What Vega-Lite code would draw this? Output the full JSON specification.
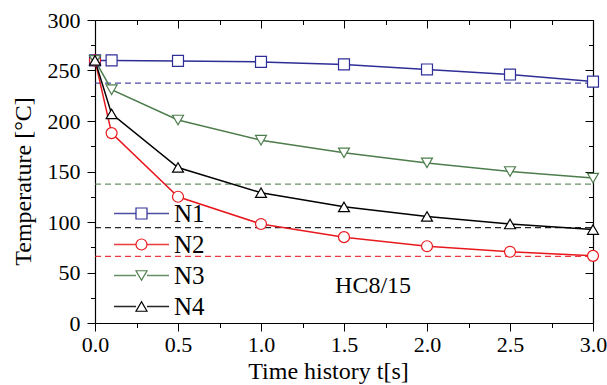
{
  "$schema": "https://vega.github.io/schema/vega-lite/v6.json",
  "width": 498,
  "height": 303,
  "autosize": {"type": "none"},
  "padding": {"left": 95, "top": 20, "right": 14, "bottom": 62},
  "background": "white",
  "config": {
    "view": {"stroke": null},
    "font": "Liberation Serif",
    "axis": {"grid": false, "domainColor": "black", "tickColor": "black", "labelColor": "black", "titleColor": "black", "labelFont": "Liberation Serif", "titleFont": "Liberation Serif", "titleFontWeight": "normal", "labelFlush": false, "labelOverlap": false, "labelBound": false, "offset": 0},
    "legend": {"labelFont": "Liberation Serif"}
  },
  "datasets": {
    "pts": [
      {"series": "N1", "t": 0, "T": 260}, {"series": "N1", "t": 0.1, "T": 260}, {"series": "N1", "t": 0.5, "T": 259.5}, {"series": "N1", "t": 1.0, "T": 258.5}, {"series": "N1", "t": 1.5, "T": 256}, {"series": "N1", "t": 2.0, "T": 251}, {"series": "N1", "t": 2.5, "T": 246}, {"series": "N1", "t": 3.0, "T": 239},
      {"series": "N2", "t": 0, "T": 260}, {"series": "N2", "t": 0.1, "T": 188}, {"series": "N2", "t": 0.5, "T": 125}, {"series": "N2", "t": 1.0, "T": 98}, {"series": "N2", "t": 1.5, "T": 85}, {"series": "N2", "t": 2.0, "T": 76}, {"series": "N2", "t": 2.5, "T": 70.5}, {"series": "N2", "t": 3.0, "T": 66.5},
      {"series": "N3", "t": 0, "T": 260}, {"series": "N3", "t": 0.1, "T": 231}, {"series": "N3", "t": 0.5, "T": 201}, {"series": "N3", "t": 1.0, "T": 181}, {"series": "N3", "t": 1.5, "T": 168.5}, {"series": "N3", "t": 2.0, "T": 158.5}, {"series": "N3", "t": 2.5, "T": 150}, {"series": "N3", "t": 3.0, "T": 143.5},
      {"series": "N4", "t": 0, "T": 260}, {"series": "N4", "t": 0.1, "T": 207}, {"series": "N4", "t": 0.5, "T": 154}, {"series": "N4", "t": 1.0, "T": 129}, {"series": "N4", "t": 1.5, "T": 115}, {"series": "N4", "t": 2.0, "T": 105.5}, {"series": "N4", "t": 2.5, "T": 98}, {"series": "N4", "t": 3.0, "T": 92.5}
    ],
    "ref": [
      {"series": "N1", "T": 237.5},
      {"series": "N2", "T": 66},
      {"series": "N3", "T": 137.5},
      {"series": "N4", "T": 94.5}
    ]
  },
  "resolve": {"axis": {"x": "independent", "y": "independent"}},
  "layer": [
    {
      "data": {"name": "ref"},
      "mark": {"type": "rule", "strokeDash": [6, 4], "strokeWidth": 1.2, "opacity": 0.85},
      "encoding": {
        "x": {"datum": 0, "type": "quantitative", "axis": null},
        "x2": {"datum": 3},
        "y": {"field": "T", "type": "quantitative", "scale": {"domain": [0, 300]}, "axis": null},
        "color": {"field": "series", "type": "nominal"}
      }
    },
    {
      "data": {"name": "pts"},
      "mark": {"type": "line", "strokeWidth": 1.5},
      "encoding": {
        "x": {"field": "t", "type": "quantitative", "scale": {"domain": [0, 3], "nice": false},
          "axis": {"orient": "bottom", "values": [0, 0.5, 1, 1.5, 2, 2.5, 3], "format": ".1f", "tickSize": 8, "labelPadding": 3, "labelFontSize": 22, "title": "Time history t[s]", "titleFontSize": 24, "titlePadding": 4, "titleX": 233, "domainWidth": 1.2}},
        "y": {"field": "T", "type": "quantitative", "scale": {"domain": [0, 300], "nice": false},
          "axis": {"orient": "left", "values": [0, 50, 100, 150, 200, 250, 300], "tickSize": 8, "labelPadding": 7, "labelFontSize": 22, "title": "Temperature [°C]", "titleFontSize": 24, "titlePadding": 12, "titleY": 161, "domainWidth": 1.2}},
        "color": {"field": "series", "type": "nominal",
          "scale": {"domain": ["N1", "N2", "N3", "N4"], "range": ["#2e2e96", "#e8191e", "#4d7d4d", "#000000"]},
          "legend": {"orient": "none", "legendX": 34, "legendY": 181, "title": null, "symbolType": "M-5,0H-1M1,0H5", "symbolSize": 121, "symbolStrokeWidth": 1.5, "labelFontSize": 25, "labelOpacity": 0, "labelOffset": 20, "rowPadding": 5, "padding": 0}}
      }
    },
    {
      "data": {"name": "pts"},
      "mark": {"type": "point", "filled": false, "fill": "white", "fillOpacity": 1, "opacity": 1, "strokeWidth": 1.2, "size": 120},
      "encoding": {
        "x": {"field": "t", "type": "quantitative",
          "axis": {"orient": "top", "values": [0, 0.5, 1, 1.5, 2, 2.5, 3], "tickSize": -8, "labels": false, "title": null, "domainWidth": 1.2}},
        "y": {"field": "T", "type": "quantitative",
          "axis": {"orient": "right", "values": [0, 50, 100, 150, 200, 250, 300], "tickSize": -8, "labels": false, "title": null, "domainWidth": 1.2}},
        "stroke": {"field": "series", "type": "nominal",
          "scale": {"range": ["#2e2e96", "#e8191e", "#4d7d4d", "#000000"]},
          "legend": {"orient": "none", "legendX": 34, "legendY": 181, "title": null, "symbolSize": 121, "symbolStrokeWidth": 1.2, "symbolFillColor": "white", "labelFontSize": 25, "labelColor": "black", "labelOffset": 20, "rowPadding": 5, "padding": 0}},
        "shape": {"field": "series", "type": "nominal",
          "scale": {"range": ["square", "circle", "triangle-down", "triangle-up"]},
          "legend": {"orient": "none", "legendX": 34, "legendY": 181, "title": null, "symbolSize": 121, "symbolStrokeWidth": 1.2, "symbolFillColor": "white", "labelFontSize": 25, "labelColor": "black", "labelOffset": 20, "rowPadding": 5, "padding": 0}}
      }
    },
    {
      "data": {"name": "pts"},
      "mark": {"type": "line", "opacity": 0},
      "encoding": {
        "x": {"field": "t", "type": "quantitative",
          "axis": {"orient": "bottom", "values": [0.25, 0.75, 1.25, 1.75, 2.25, 2.75], "tickSize": 4.5, "labels": false, "title": null, "domain": false}},
        "y": {"field": "T", "type": "quantitative",
          "axis": {"orient": "left", "values": [25, 75, 125, 175, 225, 275], "tickSize": 4.5, "labels": false, "title": null, "domain": false}}
      }
    },
    {
      "data": {"name": "pts"},
      "mark": {"type": "line", "opacity": 0},
      "encoding": {
        "x": {"field": "t", "type": "quantitative",
          "axis": {"orient": "top", "values": [0.25, 0.75, 1.25, 1.75, 2.25, 2.75], "tickSize": -4.5, "labels": false, "title": null, "domain": false}},
        "y": {"field": "T", "type": "quantitative",
          "axis": {"orient": "right", "values": [25, 75, 125, 175, 225, 275], "tickSize": -4.5, "labels": false, "title": null, "domain": false}}
      }
    },
    {
      "data": {"values": [{"label": "HC8/15"}]},
      "mark": {"type": "text", "fontSize": 24, "font": "Liberation Serif", "color": "black"},
      "encoding": {
        "text": {"field": "label"},
        "x": {"datum": 1.675, "type": "quantitative", "axis": null},
        "y": {"datum": 36.6, "type": "quantitative", "axis": null}
      }
    }
  ]
}
